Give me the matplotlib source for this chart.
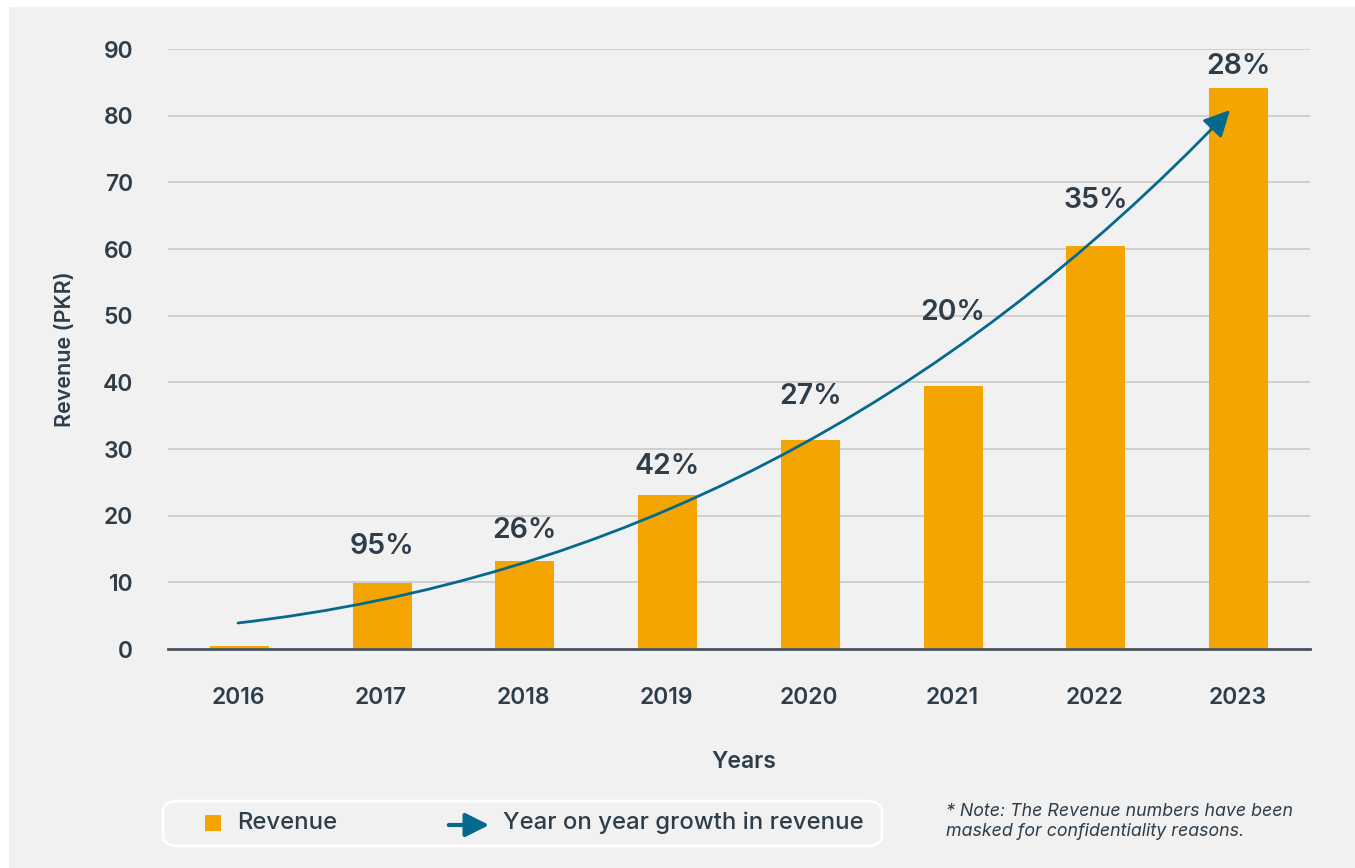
import numpy as np
import matplotlib
matplotlib.use('Agg')
import matplotlib.pyplot as plt
from matplotlib.patches import Rectangle, FancyArrowPatch, FancyBboxPatch
from matplotlib.path import Path

# data
years = ['2016', '2017', '2018', '2019', '2020', '2021', '2022', '2023']
revenue = [0.45, 9.9, 13.2, 23.1, 31.35, 39.45, 60.45, 84.15]
growth_labels = ['', '95%', '26%', '42%', '27%', '20%', '35%', '28%']
label_y = [None, 15.3, 17.7, 27.45, 37.8, 50.5, 67.2, 87.45]
yticks = [0, 10, 20, 30, 40, 50, 60, 70, 80, 90]

# growth arrow (quadratic bezier: start, control, end)
arrow_pts = [(0.0, 3.9), (3.95, 13.65), (6.95, 80.85)]

bar_col = '#F5A501'
line_col = '#05698E'
txt_col = '#2E3D4A'
bg_col = '#F1F1F1'

plt.rcParams['font.family'] = ['Inter', 'DejaVu Sans']

fig = plt.figure(figsize=(13.55, 8.68), dpi=100)
fig.patch.set_facecolor('white')
fig.patches.append(Rectangle((9/1355, 0), 1 - 9/1355, 1 - 7/868, transform=fig.transFigure,
                             facecolor=bg_col, edgecolor='none', zorder=-10))

ax = fig.add_axes([168/1355, 219/868, 1142/1355, 600/868])
ax.set_facecolor(bg_col)
ax.patch.set_alpha(0)

x = np.arange(len(years))
ax.bar(x + 0.01, revenue, width=0.413, color=bar_col, zorder=3)

ax.set_xlim(-0.49, 7.51)
ax.set_ylim(0, 90)
ax.set_yticks(yticks)
ax.set_xticks(x)
ax.set_xticklabels(years)
ax.grid(axis='y', color='#C6C6C6', linewidth=1.1, zorder=0)
for s in ['top', 'right', 'left']:
    ax.spines[s].set_visible(False)
ax.spines['bottom'].set_color('#4A5560')
ax.spines['bottom'].set_linewidth(2)
ax.spines['bottom'].set_zorder(4)
ax.tick_params(axis='both', length=0, labelsize=16.5, labelcolor=txt_col)
ax.tick_params(axis='y', pad=25)
ax.tick_params(axis='x', pad=27)
for lab in ax.get_xticklabels() + ax.get_yticklabels():
    lab.set_fontweight('semibold')

for i, (t, yy) in enumerate(zip(growth_labels, label_y)):
    if t:
        ax.text(x[i] + 0.01, yy, t, ha='center', va='center', fontsize=20.5,
                color=txt_col, fontweight='semibold', clip_on=False, zorder=5)

path = Path(arrow_pts, [Path.MOVETO, Path.CURVE3, Path.CURVE3])
arr = FancyArrowPatch(path=path, arrowstyle='-|>,head_length=10,head_width=5',
                      color=line_col, linewidth=2, zorder=6, mutation_scale=1.6)
ax.add_patch(arr)

fig.text(65/1355, 1 - 349/868, 'Revenue (PKR)', rotation=90, ha='center', va='center',
         fontsize=15.5, color=txt_col, fontweight='semibold')
fig.text(744/1355, 1 - 762/868, 'Years', ha='center', va='center',
         fontsize=16.5, color=txt_col, fontweight='semibold')

# legend box
fig.patches.append(FancyBboxPatch((163/1355, 1 - 846/868), 719/1355, 45/868,
                                  boxstyle='round,pad=0,rounding_size=0.012',
                                  transform=fig.transFigure, facecolor=bg_col,
                                  edgecolor='white', linewidth=2))
fig.patches.append(Rectangle((205/1355, 1 - 831/868), 16/1355, 16/868,
                             transform=fig.transFigure, facecolor=bar_col, edgecolor='none'))
fig.text(237/1355, 1 - 823/868, 'Revenue', ha='left', va='center', fontsize=17.2,
         color=txt_col, fontweight='medium')
fig.patches.append(FancyArrowPatch((446/1355, 1 - 825/868), (492/1355, 1 - 825/868),
                                   transform=fig.transFigure,
                                   arrowstyle='-|>,head_length=9,head_width=4.5',
                                   mutation_scale=1.6, color=line_col, linewidth=3))
fig.text(503/1355, 1 - 823/868, 'Year on year growth in revenue', ha='left', va='center',
         fontsize=17.2, color=txt_col, fontweight='medium')

fig.text(946/1355, 1 - 812/868, '* Note: The Revenue numbers have been', ha='left',
         va='center', fontsize=12.8, color=txt_col, style='italic')
fig.text(946/1355, 1 - 832/868, 'masked for confidentiality reasons.', ha='left',
         va='center', fontsize=12.8, color=txt_col, style='italic')

fig.savefig('out.png', dpi=100, facecolor=fig.get_facecolor())
